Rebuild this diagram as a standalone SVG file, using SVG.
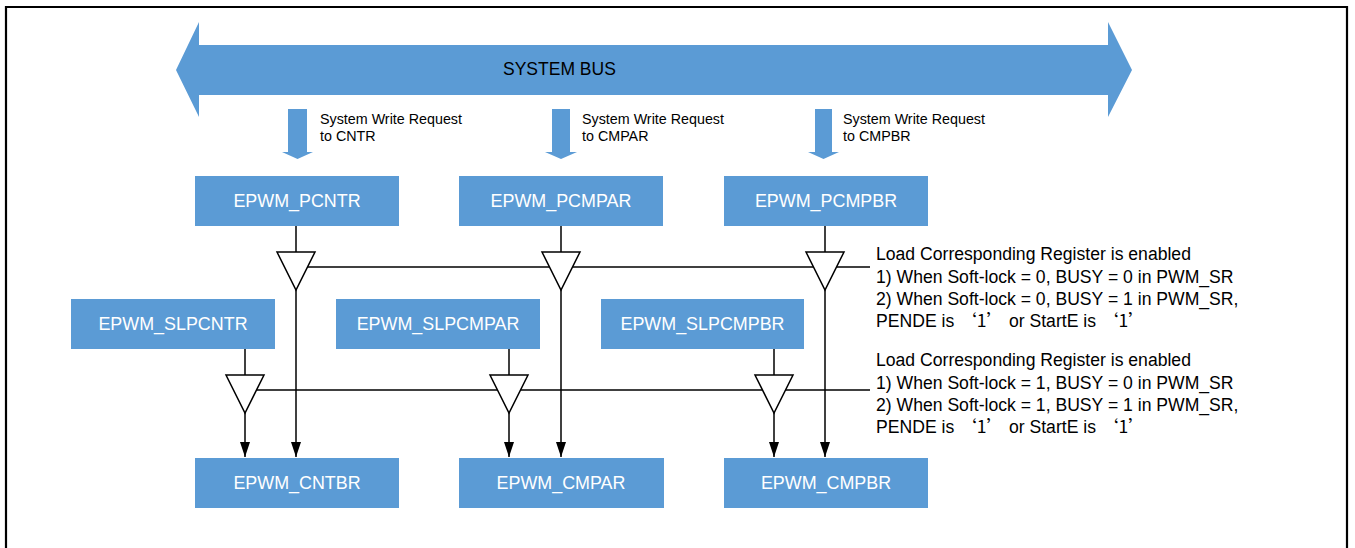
<svg xmlns="http://www.w3.org/2000/svg" width="1355" height="548" viewBox="0 0 1355 548">
<defs>
<style>
.box{fill:#5B9BD5;}
.lbl{font-family:"Liberation Sans",Arial,sans-serif;font-size:17.9px;fill:#FFFFFF;text-anchor:middle;}
.txt{font-family:"Liberation Sans",Arial,sans-serif;fill:#000000;}
.req{font-size:14.3px;}
.cond{font-size:17.6px;}
.q{font-family:"Noto Sans CJK SC","Liberation Sans",sans-serif;}
.ln{stroke:#000;stroke-width:1.5;fill:none;}
.buf{fill:#FFFFFF;stroke:#000;stroke-width:1.5;stroke-linejoin:miter;}
.blk{fill:#5B9BD5;}
</style>
<marker id="ah" viewBox="0 0 15 10" refX="15" refY="5" markerWidth="15" markerHeight="10" markerUnits="userSpaceOnUse" orient="auto">
<path d="M0,0 L15,5 L0,10 Z" fill="#000"/>
</marker>
</defs>
<rect x="0" y="0" width="1355" height="548" fill="#FFFFFF"/>
<path d="M6,550 V7 H1347 V550" fill="none" stroke="#000" stroke-width="2.2"/>

<g id="system-bus">
<polygon class="blk" points="176,70 199,22 199,45 1108,45 1108,22 1132,70 1108,117 1108,95 199,95 199,117"/>
<text class="txt" x="503" y="75" style="font-size:17.5px">SYSTEM BUS</text>
</g>

<g id="req-cntr">
<polygon class="blk" points="288,109 307,109 307,152 313,152 297.5,159 282,152 288,152"/>
<text class="txt req" x="320" y="124">System Write Request</text>
<text class="txt req" x="320" y="141">to CNTR</text>
</g>
<g id="req-cmpar">
<polygon class="blk" points="552,109 570,109 570,152 577,152 561,159 545,152 552,152"/>
<text class="txt req" x="582" y="124">System Write Request</text>
<text class="txt req" x="582" y="141">to CMPAR</text>
</g>
<g id="req-cmpbr">
<polygon class="blk" points="815,109 832,109 832,152 839,152 823.5,159 808,152 815,152"/>
<text class="txt req" x="843" y="124">System Write Request</text>
<text class="txt req" x="843" y="141">to CMPBR</text>
</g>

<g id="epwm-pcntr"><rect class="box" x="195" y="176" width="204" height="50"/><text class="lbl" x="297" y="207">EPWM_PCNTR</text></g>
<g id="epwm-pcmpar"><rect class="box" x="459" y="176" width="204" height="50"/><text class="lbl" x="561" y="207">EPWM_PCMPAR</text></g>
<g id="epwm-pcmpbr"><rect class="box" x="724" y="176" width="204" height="50"/><text class="lbl" x="826" y="207">EPWM_PCMPBR</text></g>

<g id="epwm-slpcntr"><rect class="box" x="71" y="299" width="204" height="50"/><text class="lbl" x="173" y="330">EPWM_SLPCNTR</text></g>
<g id="epwm-slpcmpar"><rect class="box" x="336" y="299" width="204" height="50"/><text class="lbl" x="438" y="330">EPWM_SLPCMPAR</text></g>
<g id="epwm-slpcmpbr"><rect class="box" x="601" y="299" width="203" height="50"/><text class="lbl" x="702.5" y="330">EPWM_SLPCMPBR</text></g>

<g id="epwm-cntbr"><rect class="box" x="195" y="458" width="204" height="50"/><text class="lbl" x="297" y="489">EPWM_CNTBR</text></g>
<g id="epwm-cmpar"><rect class="box" x="459" y="458" width="205" height="50"/><text class="lbl" x="561" y="489">EPWM_CMPAR</text></g>
<g id="epwm-cmpbr"><rect class="box" x="724" y="458" width="204" height="50"/><text class="lbl" x="826" y="489">EPWM_CMPBR</text></g>

<g id="connectors">
<line class="ln" x1="296" y1="267" x2="870" y2="267"/>
<line class="ln" x1="245" y1="390" x2="870" y2="390"/>
<line class="ln" x1="296" y1="226" x2="296" y2="252"/>
<line class="ln" x1="561" y1="226" x2="561" y2="252"/>
<line class="ln" x1="825" y1="226" x2="825" y2="252"/>
<line class="ln" x1="245" y1="349" x2="245" y2="375"/>
<line class="ln" x1="509" y1="349" x2="509" y2="375"/>
<line class="ln" x1="774" y1="349" x2="774" y2="375"/>
<line class="ln" x1="296" y1="290" x2="296" y2="457" marker-end="url(#ah)"/>
<line class="ln" x1="561" y1="290" x2="561" y2="457" marker-end="url(#ah)"/>
<line class="ln" x1="825" y1="290" x2="825" y2="457" marker-end="url(#ah)"/>
<line class="ln" x1="245" y1="413" x2="245" y2="457" marker-end="url(#ah)"/>
<line class="ln" x1="509" y1="413" x2="509" y2="457" marker-end="url(#ah)"/>
<line class="ln" x1="774" y1="413" x2="774" y2="457" marker-end="url(#ah)"/>
</g>

<g id="buffer-cntr"><polygon class="buf" points="277,252 315,252 296,290"/></g>
<g id="buffer-cmpar"><polygon class="buf" points="542,252 580,252 561,290"/></g>
<g id="buffer-cmpbr"><polygon class="buf" points="806,252 844,252 825,290"/></g>
<g id="buffer-slcntr"><polygon class="buf" points="226,375 264,375 245,413"/></g>
<g id="buffer-slcmpar"><polygon class="buf" points="490,375 528,375 509,413"/></g>
<g id="buffer-slcmpbr"><polygon class="buf" points="755,375 793,375 774,413"/></g>

<g id="cond-normal">
<text class="txt cond" x="876" y="260">Load Corresponding Register is enabled</text>
<text class="txt cond" x="876" y="283">1) When Soft-lock = 0, BUSY = 0 in PWM_SR</text>
<text class="txt cond" x="876" y="305">2) When Soft-lock = 0, BUSY = 1 in PWM_SR,</text>
<text class="txt cond" x="876" y="327">PENDE is <tspan class="q">‘1’</tspan> or StartE is <tspan class="q">‘1’</tspan></text>
</g>
<g id="cond-softlock">
<text class="txt cond" x="876" y="366">Load Corresponding Register is enabled</text>
<text class="txt cond" x="876" y="389">1) When Soft-lock = 1, BUSY = 0 in PWM_SR</text>
<text class="txt cond" x="876" y="411">2) When Soft-lock = 1, BUSY = 1 in PWM_SR,</text>
<text class="txt cond" x="876" y="433">PENDE is <tspan class="q">‘1’</tspan> or StartE is <tspan class="q">‘1’</tspan></text>
</g>
</svg>
